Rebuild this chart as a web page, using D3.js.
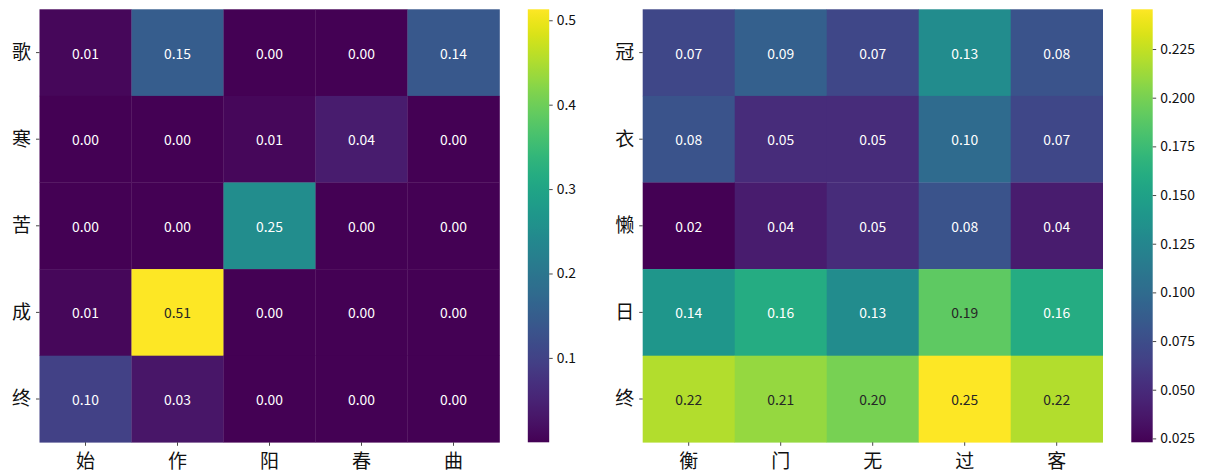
<!DOCTYPE html>
<html><head><meta charset="utf-8">
<script src="https://cdn.jsdelivr.net/npm/d3@7/dist/d3.min.js"></script>
<style>body{margin:0;background:#fff}svg{display:block}text{font-family:"Noto Sans CJK SC","Noto Sans",sans-serif}</style>
</head><body><svg id="c" width="1205" height="475"></svg>
<script>
const leftRows = ["歌","寒","苦","成","终"];
const leftCols = ["始","作","阳","春","曲"];
const leftValues = [
  [0.01, 0.15, 0.00, 0.00, 0.14],
  [0.00, 0.00, 0.01, 0.04, 0.00],
  [0.00, 0.00, 0.25, 0.00, 0.00],
  [0.01, 0.513, 0.00, 0.00, 0.00],
  [0.10, 0.03, 0.00, 0.00, 0.00]
];
const leftTicks = [0.1, 0.2, 0.3, 0.4, 0.5];

const rightRows = ["冠","衣","懒","日","终"];
const rightCols = ["衡","门","无","过","客"];
const rightValues = [
  [0.07, 0.09, 0.07, 0.13, 0.08],
  [0.08, 0.05, 0.05, 0.10, 0.07],
  [0.023, 0.04, 0.05, 0.08, 0.04],
  [0.14, 0.16, 0.13, 0.19, 0.16],
  [0.22, 0.21, 0.20, 0.2454, 0.22]
];
const rightTicks = [0.025, 0.05, 0.075, 0.1, 0.125, 0.15, 0.175, 0.2, 0.225];

const svg = d3.select("#c");
let gid = 0;

function lum(c){
  const r = d3.rgb(c);
  const f = v => { v/=255; return v<=0.03928 ? v/12.92 : Math.pow((v+0.055)/1.055,2.4); };
  return 0.2126*f(r.r)+0.7152*f(r.g)+0.0722*f(r.b);
}

function heatmap(rows, cols, values, ticks, x0, tickFmt, cbX){
  const x1 = x0 + 460, y0 = 9.3, y1 = 442.3;
  const flat = values.flat();
  const ext = d3.extent(flat);
  const color = d3.scaleSequential(d3.interpolateViridis).domain(ext);
  const xs = d3.scaleBand().domain(cols).range([x0, x1]);
  const ys = d3.scaleBand().domain(rows).range([y0, y1]);
  const g = svg.append("g");
  rows.forEach((r,i)=>cols.forEach((c,j)=>{
    const v = values[i][j];
    const col = color(v);
    g.append("rect").attr("x", xs(c)).attr("y", ys(r))
      .attr("width", xs.bandwidth()+0.3).attr("height", ys.bandwidth()+0.3)
      .attr("fill", col);
    g.append("text").attr("x", xs(c)+xs.bandwidth()/2).attr("y", ys(r)+ys.bandwidth()/2)
      .attr("text-anchor","middle").attr("dominant-baseline","central")
      .attr("font-size", 13.9)
      .attr("fill", lum(col) > 0.408 ? "#262626" : "#ffffff")
      .text(v.toFixed(2));
  }));
  const ya = d3.axisLeft(ys).tickSize(3.5).tickPadding(5);
  const yg = svg.append("g").attr("transform", `translate(${x0},0)`).call(ya);
  const xa = d3.axisBottom(xs).tickSize(3.5).tickPadding(4);
  const xg = svg.append("g").attr("transform", `translate(0,${y1})`).call(xa);
  [yg,xg].forEach(a=>{
    a.select(".domain").remove();
    a.selectAll(".tick line").attr("stroke","#333").attr("stroke-width",0.9);
    a.selectAll(".tick text").attr("font-size",19).attr("fill","#111")
      .style("font-family",'"Noto Sans CJK SC",sans-serif');
  });
  xg.selectAll(".tick text").attr("dy","0.95em");
  yg.selectAll(".tick text").attr("dy","0.34em");

  // colorbar
  const id = "grad"+(gid++);
  const grad = svg.append("defs").append("linearGradient").attr("id", id)
    .attr("x1","0").attr("y1","1").attr("x2","0").attr("y2","0");
  d3.range(0,1.0001,0.02).forEach(t=>{
    grad.append("stop").attr("offset", t).attr("stop-color", d3.interpolateViridis(t));
  });
  const cbW = 21.4;
  svg.append("rect").attr("x", cbX).attr("y", y0).attr("width", cbW).attr("height", y1-y0)
    .attr("fill", `url(#${id})`);
  const cs = d3.scaleLinear().domain(ext).range([y1, y0]);
  const ca = d3.axisRight(cs).tickValues(ticks).tickFormat(tickFmt).tickSize(3.5).tickPadding(4);
  const cg = svg.append("g").attr("transform", `translate(${cbX+cbW},0)`).call(ca);
  cg.select(".domain").remove();
  cg.selectAll(".tick line").attr("stroke","#333").attr("stroke-width",0.9);
  cg.selectAll(".tick text").attr("font-size",13.9).attr("fill","#111")
    .style("font-family",'"Noto Sans CJK SC",sans-serif');
}

heatmap(leftRows, leftCols, leftValues, leftTicks, 39.5, d3.format(".1f"), 527.8);
heatmap(rightRows, rightCols, rightValues, rightTicks, 642.7, d3.format(".3f"), 1131.3);
</script></body></html>
